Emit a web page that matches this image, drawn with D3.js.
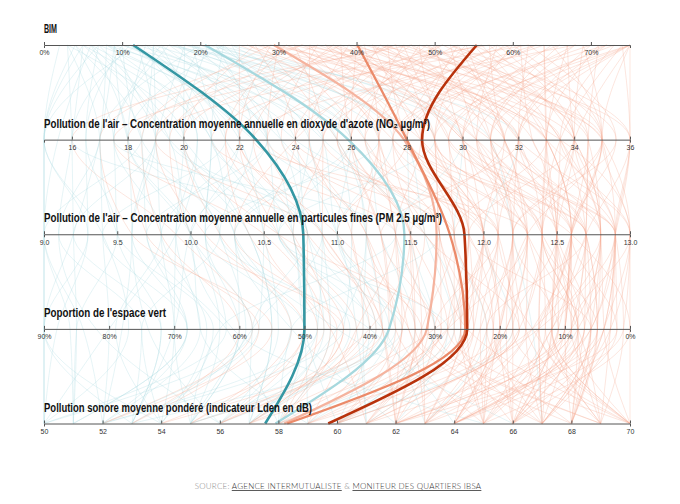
<!DOCTYPE html>
<html>
<head>
<meta charset="utf-8">
<script src="https://cdn.jsdelivr.net/npm/d3@7"></script>
<style>
  html, body { margin: 0; padding: 0; background: #fff; }
  svg { display: block; }
</style>
</head>
<body>
<script>
// ---------- DATA ----------
const dimensions = ["bim", "no2", "pm", "green", "noise"];
const titles = [
  "BIM",
  "Pollution de l'air \u2013 Concentration moyenne annuelle en dioxyde d'azote (NO\u2082 \u00b5g/m\u00b3)",
  "Pollution de l'air \u2013 Concentration moyenne annuelle en particules fines (PM 2.5 \u00b5g/m\u00b3)",
  "Poportion de l'espace vert",
  "Pollution sonore moyenne pond\u00e9r\u00e9 (indicateur Lden en dB)"
];
const domains = [[0, 75], [15, 36], [9, 13], [90, 0], [50, 70]];
const tickValues = [
  [0, 10, 20, 30, 40, 50, 60, 70],
  [16, 18, 20, 22, 24, 26, 28, 30, 32, 34, 36],
  [9, 9.5, 10, 10.5, 11, 11.5, 12, 12.5, 13],
  [90, 80, 70, 60, 50, 40, 30, 20, 10, 0],
  [50, 52, 54, 56, 58, 60, 62, 64, 66, 68, 70]
];

// background neighbourhoods
const bim = [3,4,5,5,6,6,7,7,8,8,9,9,10,10,11,11,12,12,13,13,14,14,15,15,16,16,17,17,18,18,19,19,20,20,21,21,22,22,23,23,24,24,4,6,9,12,14,3,7,10,16,18,20,22,25,
  26,27,28,29,30,30,31,32,32,33,34,34,35,36,36,37,38,38,39,40,40,41,42,42,43,44,44,45,46,46,47,48,48,49,50,50,51,52,52,53,54,55,55,56,57,58,58,59,60,61,62,63,64,65,66,67,68,69,70,71,72,73,74,75,75,75,75,75,
  27,29,31,33,35,37,39,41,43,45,47,49,51,53,56,60,64,68,72,62,57,47,
  2,3,4,5,6,7,8,9,10,11,12,13,14,15,16,17,18,19,20,21,22,23,24,5,8,
  25,26,27,28,29,30,31,32,33,34,35,36,37,38,39,40,41,42,43,44,45,46,47,48,49,50,51,52,53,54,55,56,57,58,59,60,61,62,63,64,65,66,67,68,69,70,71,72,73,74,75,75,75,33,45];
const no2 = [16,17.5,15,19,18,21,16.5,20,22,17,19.5,23,18.5,24,21.5,16,25,20.5,22.5,18,26,19,23.5,21,27,17.5,24.5,22,28,20,25.5,23,26.5,19.5,29,24,22.5,27.5,25,21,30,26,15,15.5,17,15,18.5,20,23,26,30,32,17,31,28.5,
  27,24,30,22,31.5,26.5,28,33,25,29.5,27.5,32,23.5,30.5,34,28.5,26,31,35,29,33.5,27,32.5,30,36,28,31.5,34.5,26.5,30,33,29.5,35.5,31,27.5,33,34,30.5,34,28.5,32,35,29,33.5,31.5,34,27,34.5,30,32.5,35.5,28,33,35,31,34,29.5,35,32,33,30.5,33.5,36,31.5,34,32,29,35,
  20,18.5,21.5,17,19.5,22.5,24.5,20,25.5,22,24,26,23,25,21,24,26.5,22.5,27.5,19,17.5,16,
  15,17,18.5,16,19.5,15,20.5,18,16.5,22,19,24.5,21,17.5,23,26,19,21.5,28,20,25.5,18,23.5,21,25,
  22,29,32,25.5,33.5,23,30.5,27,35,24.5,31.5,28,33,21.5,30,26,34.5,28.5,32,24,29,35,31,27,33.5,30,25.5,36,31.5,28,33,26,34,30.5,28.5,35,29,32,25,33,30,27.5,33,31,34,28,34.5,32,29.5,33.5,31,30,36,19,18];
const pm = [9.2,9.5,9.0,9.8,9.6,10.1,9.3,10.4,10.0,9.1,10.6,9.7,10.2,10.8,9.4,10.9,10.3,9.9,11.2,10.0,10.6,9.6,11.0,10.5,10.1,11.4,10.7,9.8,11.5,10.4,11.1,10.0,11.3,10.9,10.6,11.7,10.2,11.0,11.6,10.8,11.4,10.3,9.0,9.0,9.2,9.4,9.0,9.9,10.7,11.2,11.8,12.0,9.5,12.2,11.9,
  11.2,10.5,12.0,10.9,12.3,11.5,11.0,12.6,10.7,11.8,12.1,11.3,11.6,12.4,12.8,11.4,12.0,12.7,12.2,11.7,13.0,11.1,12.5,11.9,12.9,12.3,11.5,12.6,12.0,12.8,11.8,12.4,12.6,12.1,11.6,12.9,12.5,12.2,11.9,12.7,13.0,12.3,12.0,12.8,12.6,12.4,11.7,12.7,12.5,12.9,12.2,12.7,12.4,12.6,12.3,12.9,12.0,12.6,12.8,12.5,12.4,13.0,12.7,12.9,12.5,12.2,12.6,13.0,
  10.2,9.8,10.4,9.6,10.0,10.8,11.2,10.6,11.5,11.0,10.3,11.3,11.8,10.9,11.4,12.1,11.6,12.3,11.9,10.8,10.5,9.9,
  9.0,9.4,9.7,9.1,10.0,9.3,9.9,10.3,9.5,10.5,9.2,10.9,10.1,9.8,10.6,11.0,9.6,10.7,11.6,10.2,11.2,10.0,10.8,10.3,11.0,
  10.6,11.7,12.1,11.3,12.5,10.9,12.2,11.4,12.9,11.1,12.0,11.8,12.6,10.7,12.3,11.5,12.8,12.0,12.4,11.2,11.9,13.0,12.2,11.4,12.7,12.1,11.7,12.9,12.3,12.0,12.6,11.5,12.8,12.2,11.9,12.6,12.4,12.7,11.8,12.5,12.9,12.1,12.4,12.6,12.8,12.3,12.7,12.5,12.9,12.4,12.7,12.6,12.9,10.1,9.7];
const green = [85,72,90,65,78,60,88,55,70,82,48,62,75,40,68,58,52,80,45,66,35,74,42,57,50,63,38,70,30,55,44,61,33,48,28,52,40,36,26,58,30,45,90,86,90,77,84,70,50,38,22,18,64,15,24,
  35,46,20,40,12,28,32,10,42,22,18,30,25,8,14,34,20,5,16,24,0,38,12,28,6,19,33,10,26,4,21,14,2,30,17,8,12,23,6,15,3,20,27,9,13,8,31,7,18,4,11,22,5,14,8,12,25,10,6,6,16,9,12,1,7,19,0,4,
  52,60,48,55,44,38,36,29,40,33,45,37,26,34,42,30,35,28,21,50,47,58,
  90,80,68,75,58,90,66,60,85,54,72,46,62,79,43,39,68,50,27,59,41,63,47,52,37,
  44,26,17,36,9,39,21,31,4,41,15,27,11,46,19,32,7,24,13,38,28,1,18,35,6,22,29,3,16,25,10,33,5,20,26,12,17,9,32,12,6,23,8,15,14,20,8,11,3,14,5,9,2,50,57];
const noise = [51,53,50,54,52,55,50,57,53,56,52,58,54,60,51,55,62,50,57,59,53,56,61,52,58,55,63,54,60,57,52,65,59,56,62,58,64,55,61,57,60,66,50,51,53,50,52,55,59,56,63,60,54,67,62,
  58,61,64,56,66,60,63,68,57,65,59,62,70,64,61,67,58,63,69,60,65,62,70,57,66,64,68,61,65,70,63,67,62,69,60,66,70,64,68,61,67,65,67,63,70,66,69,64,70,67,62,68,66,65,69,66,63,64,68,67,67,70,65,69,64,66,70,68,
  55,53,58,52,57,54,60,59,56,62,58,55,61,63,59,57,62,60,64,56,54,52,
  50,52,51,53,50,54,52,55,51,56,53,58,50,54,57,55,52,60,58,53,61,55,57,56,59,
  57,63,60,65,62,59,67,61,64,56,69,60,66,58,63,61,68,59,65,62,70,64,66,60,67,63,58,69,62,65,66,61,68,64,66,67,63,67,62,69,64,65,68,64,67,66,69,65,67,70,68,62,66,55,53];

// highlighted neighbourhoods
const hlNames = ["teal", "lightTeal", "lightSalmon", "orange", "darkRed"];
const hlBim   = [11.4, 20.6, 29.4, 40.1, 55.4];
const hlNo2   = [22.6, 25.9, 27.9, 28.0, 28.55];
const hlPm    = [10.77, 11.46, 11.68, 11.77, 11.87];
const hlGreen = [50, 37, 31.2, 25.3, 25];
const hlNoise = [57.55, 57.9, 58.2, 58.3, 59.7];

// ---------- LAYOUT ----------
const W = 680, H = 504;
const x0 = 44, x1 = 630;
const yTop = 45, yBot = 423.5;
const titleWidths = [13, 386, 398, 122, 268];
const hlColors = ["#3497a3", "#a6d8de", "#f5b39e", "#eb8a69", "#b8320c"];
const hlWidths = [2.6, 2.3, 2.2, 2.3, 2.6];

const svg = d3.select("body").append("svg").attr("width", W).attr("height", H);

const yScale = d3.scaleLinear().domain([0, dimensions.length - 1]).range([yTop, yBot]);
const xScales = domains.map(dm => d3.scaleLinear().domain(dm).range([x0, x1]).clamp(true));

const cols = [bim, no2, pm, green, noise];
const rows = bim.map((_, i) => cols.map(c => c[i]));
const hlCols = [hlBim, hlNo2, hlPm, hlGreen, hlNoise];
const hlRows = hlNames.map((_, i) => hlCols.map(c => c[i]));

const line = d3.line()
  .x((v, k) => xScales[k](v))
  .y((v, k) => yScale(k))
  .curve(d3.curveMonotoneY);

const bgColor = v => v < 25 ? "#a9d9e0" : "#f3a890";

svg.append("g").attr("class", "bg")
  .selectAll("path").data(rows).join("path")
  .attr("d", line)
  .attr("fill", "none")
  .attr("stroke", d => bgColor(d[0]))
  .attr("stroke-opacity", 0.36)
  .attr("stroke-width", 0.8);

svg.append("g").attr("class", "hl")
  .selectAll("path").data(hlRows).join("path")
  .attr("d", line)
  .attr("fill", "none")
  .attr("stroke", (d, i) => hlColors[i])
  .attr("stroke-width", (d, i) => hlWidths[i]);

// axes
const fmts = [d => d + "%", d => d, d3.format(".1f"), d => d + "%", d => d];
dimensions.forEach((dim, k) => {
  const g = svg.append("g").attr("transform", `translate(0,${yScale(k)})`);
  const ax = d3.axisBottom(xScales[k]).tickValues(tickValues[k]).tickFormat(fmts[k])
    .tickSizeInner(-3).tickSizeOuter(3).tickPadding(4);
  g.call(ax);
  g.select(".domain").attr("stroke", "#555").attr("stroke-width", 1);
  g.selectAll(".tick line").attr("stroke", "#555");
  g.selectAll(".tick text").attr("fill", "#333").attr("font-family", "Liberation Sans, Arial, sans-serif")
    .attr("font-size", 7).attr("dy", "0.9em");
  svg.append("text")
    .attr("x", x0).attr("y", yScale(k) - 12)
    .attr("font-family", "Liberation Sans Narrow, Arial Narrow, sans-serif")
    .attr("font-weight", "bold")
    .attr("font-size", 12.5)
    .attr("fill", "#111")
    .attr("textLength", titleWidths[k])
    .attr("lengthAdjust", "spacingAndGlyphs")
    .text(titles[k]);
});

// source
const src = svg.append("text")
  .attr("x", 338).attr("y", 489)
  .attr("text-anchor", "middle")
  .attr("font-family", "Lato, sans-serif")
  .attr("font-weight", 300)
  .attr("font-size", 8)
  .attr("letter-spacing", 0.25)
  .attr("fill", "#888");
src.append("tspan").text("SOURCE: ");
src.append("tspan").attr("fill", "#333").attr("text-decoration", "underline").text("AGENCE INTERMUTUALISTE");
src.append("tspan").text(" & ");
src.append("tspan").attr("fill", "#333").attr("text-decoration", "underline").text("MONITEUR DES QUARTIERS IBSA");
</script>
</body>
</html>
